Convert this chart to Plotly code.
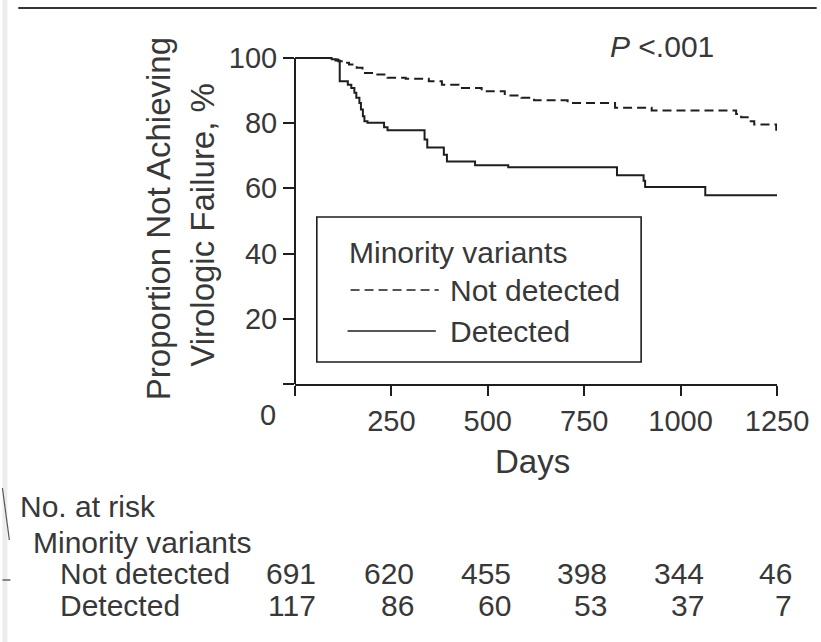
import plotly.graph_objects as go

# ---- data ----
nd_days = [0, 100, 112, 125, 140, 160, 175, 206, 240, 287, 347, 381, 424, 484, 544, 587, 620, 707, 830, 925, 1144, 1157, 1174, 1191, 1248, 1250]
nd_surv = [100, 99.5, 99.0, 98.5, 98.0, 97.0, 95.4, 94.9, 93.9, 93.6, 92.8, 91.8, 90.8, 89.8, 88.5, 87.8, 87.0, 86.2, 84.7, 83.9, 82.8, 81.8, 80.6, 79.6, 78.0, 78.0]

det_days = [0, 95, 105, 116, 137, 146, 154, 159, 167, 171, 176, 180, 188, 231, 240, 336, 343, 386, 394, 467, 553, 835, 904, 908, 1064, 1250]
det_surv = [100, 99.6, 99.2, 92.8, 91.8, 90.8, 89.3, 87.8, 86.2, 84.2, 82.1, 80.6, 80.1, 78.7, 77.8, 75.0, 72.5, 70.3, 68.2, 67.1, 66.5, 64.0, 62.3, 60.4, 57.9, 57.9]

x_ticks = [0, 250, 500, 750, 1000, 1250]
x_ticklabels = ["", "250", "500", "750", "1000", "1250"]
y_ticks = [0, 20, 40, 60, 80, 100]
y_ticklabels = ["", "20", "40", "60", "80", "100"]

risk_days = [0, 250, 500, 750, 1000, 1250]
risk_not_detected = [691, 620, 455, 398, 344, 46]
risk_detected = [117, 86, 60, 53, 37, 7]

# ---- layout geometry ----
W, H = 821, 642
L, R, T, B = 295, 40, 53, 258
PW = W - L - R
PH = H - T - B
FONT = "Liberation Sans, Arial, sans-serif"
TXT = "#383838"
LINE = "#1e1e1e"


def px(x):
    return (x - L) / PW


def py(y):
    return (H - B - y) / PH


fig = go.Figure()
fig.add_trace(go.Scatter(x=nd_days, y=nd_surv, mode="lines", line_shape="hv",
                         line=dict(color=LINE, width=2, dash="9px,5px"), name="Not detected",
                         showlegend=False))
fig.add_trace(go.Scatter(x=det_days, y=det_surv, mode="lines", line_shape="hv",
                         line=dict(color=LINE, width=2), name="Detected", showlegend=False))

shapes = []
# y axis line (0..100)
shapes.append(dict(type="line", xref="paper", yref="y", x0=0, x1=0, y0=0, y1=100,
                   line=dict(color=LINE, width=2)))
# top rule
shapes.append(dict(type="line", xref="paper", yref="paper", x0=px(16), x1=px(821), y0=py(8), y1=py(8),
                   line=dict(color="#333333", width=2)))
# left gray strip and edge artifacts
shapes.append(dict(type="rect", xref="paper", yref="paper", x0=px(0), x1=px(5), y0=py(0), y1=py(642),
                   line=dict(width=0), fillcolor="#ececec", layer="below"))
shapes.append(dict(type="line", xref="paper", yref="paper", x0=px(0), x1=px(7), y0=py(488), y1=py(540),
                   line=dict(color="#555555", width=1.2)))
shapes.append(dict(type="line", xref="paper", yref="paper", x0=px(0), x1=px(8), y0=py(580), y1=py(580),
                   line=dict(color="#888888", width=2)))
# legend box
shapes.append(dict(type="rect", xref="paper", yref="paper", x0=px(317), x1=px(644), y0=py(362), y1=py(217),
                   line=dict(color=LINE, width=1.6), fillcolor="white"))
shapes.append(dict(type="line", xref="paper", yref="paper", x0=px(351), x1=px(440), y0=py(290), y1=py(290),
                   line=dict(color=LINE, width=1.6, dash="9px,5px")))
shapes.append(dict(type="line", xref="paper", yref="paper", x0=px(348), x1=px(437), y0=py(331), y1=py(331),
                   line=dict(color=LINE, width=1.6)))

ann = []


def text(t, x, y, anchor="left", size=30, angle=0):
    ann.append(dict(text=t, xref="paper", yref="paper", x=px(x), y=py(y), xanchor=anchor,
                    yanchor="middle", showarrow=False, textangle=angle,
                    font=dict(family=FONT, size=size, color=TXT)))


text("<i>P</i> &lt;.001", 611, 47)
text("Minority variants", 347, 252)
text("Not detected", 449, 290)
text("Detected", 449, 331)
text("0", 268, 415, anchor="center", size=29)
text("Days", 534, 461, anchor="center", size=33)
text("Proportion Not Achieving", 157, 219, anchor="center", size=33, angle=-90)
text("Virologic Failure, %", 201, 225, anchor="center", size=33, angle=-90)
text("No. at risk", 16, 507)
text("Minority variants", 29, 542)
text("Not detected", 56, 573)
text("Detected", 56, 605)

shifts = [23, 25, 25, 25, 25, 17]
for d, a, b, s in zip(risk_days, risk_not_detected, risk_detected, shifts):
    for val, yy in ((a, 573), (b, 605)):
        ann.append(dict(text=str(val), xref="x", yref="paper", x=d, y=py(yy), xanchor="right",
                        xshift=s, yanchor="middle", showarrow=False,
                        font=dict(family=FONT, size=30, color=TXT)))

fig.update_layout(
    width=W, height=H, margin=dict(l=L, r=R, t=T, b=B),
    paper_bgcolor="white", plot_bgcolor="white",
    font=dict(family=FONT, size=29, color=TXT),
    shapes=shapes, annotations=ann, showlegend=False,
    xaxis=dict(range=[0, 1250], tickvals=x_ticks, ticktext=x_ticklabels, showgrid=False,
               zeroline=False, showline=True, linecolor=LINE, linewidth=2, ticks="outside",
               ticklen=10, tickwidth=1.6, tickcolor=LINE, tickfont=dict(size=29, color=TXT),
               fixedrange=True),
    yaxis=dict(range=[0, 101.5], tickvals=y_ticks, ticktext=y_ticklabels, showgrid=False,
               zeroline=False, showline=False, ticks="outside", ticklen=11, tickwidth=1.6,
               tickcolor=LINE, tickfont=dict(size=29, color=TXT), fixedrange=True),
)

fig.write_html("out.html", config={"displayModeBar": False})
